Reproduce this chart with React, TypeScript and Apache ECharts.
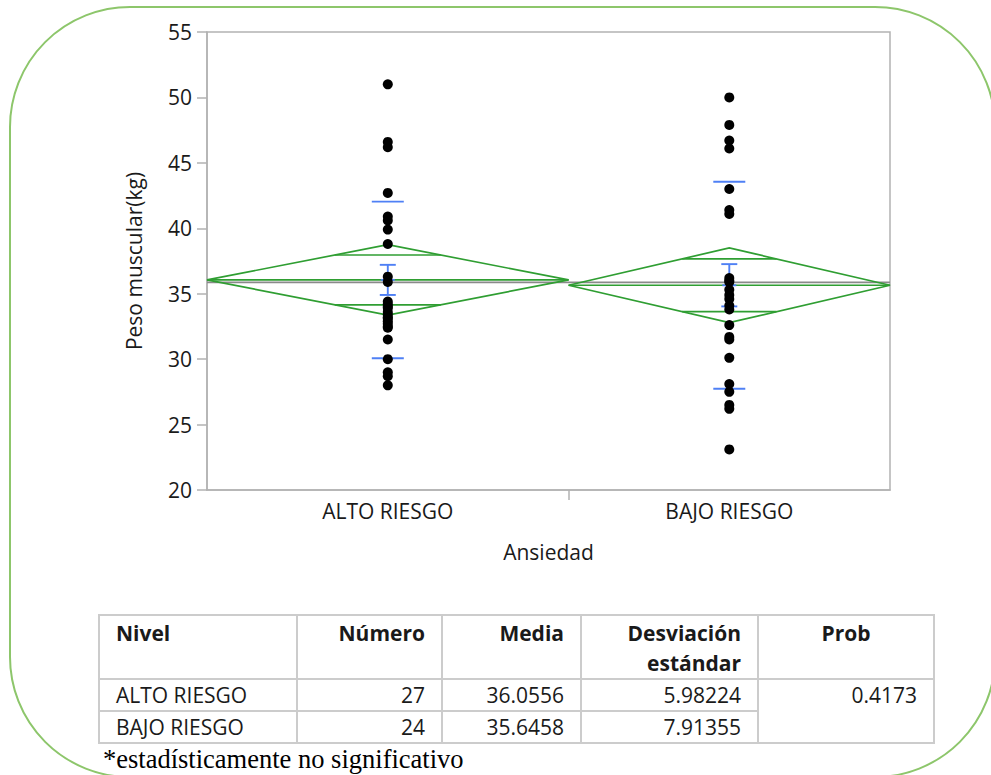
import React, { useEffect, useRef } from 'react';
import * as echarts from 'echarts';

const categories = ['ALTO RIESGO', 'BAJO RIESGO'];
const counts = [27, 24];
const means = [36.0556, 35.6458];
const stdDevs = [5.98224, 7.91355];
const meanLabels = ['36.0556', '35.6458'];
const sdLabels = ['5.98224', '7.91355'];
const probValue = '0.4173';
const tableHeaders = ['Nivel', 'Número', 'Media', 'Desviación estándar', 'Prob'];
const footnote = '*estadísticamente no significativo';

const altoRiesgo = [51.0, 46.6, 46.2, 42.7, 40.9, 40.6, 39.9, 38.8, 36.3, 35.9, 34.4, 34.2, 34.0, 33.9, 33.6, 33.4, 33.2, 33.1, 32.9, 32.7, 32.5, 32.4, 31.5, 30.0, 29.0, 28.7, 28.0];
const bajoRiesgo = [50.0, 47.9, 46.7, 46.1, 43.0, 41.4, 41.1, 36.2, 36.0, 35.9, 35.3, 34.9, 34.6, 34.1, 33.8, 32.6, 31.7, 31.5, 30.1, 28.1, 27.5, 26.5, 26.2, 23.1];

const yMin = 20;
const yMax = 55;
const yStep = 5;
const tCritical = 2.0096; // t(0.975, df = 49)

const GREEN = '#2f9e32';
const BLUE = '#4f80f5';
const GREY = '#b2b2b2';
const FONT = '"Open Sans", sans-serif';

export default function App() {
  const ref = useRef<HTMLDivElement>(null);

  useEffect(() => {
    if (!ref.current) return;
    const chart = echarts.init(ref.current, undefined, { renderer: 'svg' });

    const total = counts.reduce((a, b) => a + b, 0);
    const starts = counts.map((_, i) => counts.slice(0, i).reduce((a, b) => a + b, 0));
    const centers = starts.map((s, i) => s + counts[i] / 2);
    const df = total - counts.length;
    const pooledSd = Math.sqrt(counts.reduce((acc, n, i) => acc + (n - 1) * stdDevs[i] ** 2, 0) / df);
    const grandMean = counts.reduce((a, n, i) => a + n * means[i], 0) / total;
    const groupRows = counts.map((n, i) => {
      const ci = tCritical * pooledSd / Math.sqrt(n);
      return [starts[i], starts[i] + n, means[i], ci, ci / Math.SQRT2, stdDevs[i] / Math.sqrt(n), stdDevs[i]];
    });

    const seg = (a: number[], b: number[], color: string, w = 1.7) => ({
      type: 'line',
      shape: { x1: a[0], y1: a[1], x2: b[0], y2: b[1] },
      style: { stroke: color, lineWidth: w },
    });

    const option: any = {
      animation: false,
      textStyle: { fontFamily: FONT },
      graphic: [
        {
          type: 'rect',
          silent: true,
          z: -10,
          shape: { x: 10, y: 7, width: 985, height: 770, r: 120 },
          style: { fill: 'none', stroke: '#8dc66b', lineWidth: 2 },
        },
      ],
      grid: {
        left: 207,
        top: 32,
        width: 683,
        height: 458,
        show: true,
        borderColor: GREY,
        borderWidth: 1.5,
        backgroundColor: 'transparent',
      },
      xAxis: {
        type: 'value',
        min: 0,
        max: total,
        splitLine: { show: false },
        axisLine: { show: true, lineStyle: { color: GREY, width: 1.5 } },
        axisTick: { show: true, customValues: starts.slice(1), length: 10, lineStyle: { color: GREY, width: 1.5 } },
        axisLabel: {
          customValues: centers,
          formatter: (v: number) => {
            const idx = centers.findIndex((c) => Math.abs(c - v) < 1e-6);
            return idx >= 0 ? categories[idx] : '';
          },
          fontSize: 21,
          color: '#1a1a1a',
          margin: 10,
          fontFamily: FONT,
        },
        name: 'Ansiedad',
        nameLocation: 'middle',
        nameGap: 51,
        nameTextStyle: { fontSize: 21, color: '#1a1a1a', fontFamily: FONT },
      },
      yAxis: {
        type: 'value',
        min: yMin,
        max: yMax,
        interval: yStep,
        splitLine: { show: false },
        axisLine: { show: true, lineStyle: { color: GREY, width: 1.5 } },
        axisTick: { show: true, length: 10, lineStyle: { color: GREY, width: 1.5 } },
        axisLabel: { fontSize: 21, color: '#1a1a1a', margin: 15, fontFamily: FONT },
        name: 'Peso muscular(kg)',
        nameLocation: 'middle',
        nameGap: 63,
        nameTextStyle: { fontSize: 21, color: '#1a1a1a', fontFamily: FONT },
      },
      series: [
        {
          type: 'custom',
          name: 'grandMean',
          z: 1,
          silent: true,
          data: [[0, total, grandMean]],
          renderItem: (_p: any, api: any) => {
            const a = api.coord([api.value(0), api.value(2)]);
            const b = api.coord([api.value(1), api.value(2)]);
            return seg(a, b, '#8a8a8a', 1.7);
          },
        },
        {
          type: 'custom',
          name: 'diamonds',
          z: 2,
          silent: true,
          data: groupRows,
          renderItem: (_p: any, api: any) => {
            const x0 = api.value(0);
            const x1 = api.value(1);
            const m = api.value(2);
            const ci = api.value(3);
            const ov = api.value(4);
            const xc = (x0 + x1) / 2;
            const pL = api.coord([x0, m]);
            const pR = api.coord([x1, m]);
            const pT = api.coord([xc, m + ci]);
            const pB = api.coord([xc, m - ci]);
            const f = 1 - ov / ci;
            const ox0 = xc - (xc - x0) * f;
            const ox1 = xc + (xc - x0) * f;
            return {
              type: 'group',
              children: [
                {
                  type: 'polygon',
                  shape: { points: [pL, pT, pR, pB] },
                  style: { fill: 'none', stroke: GREEN, lineWidth: 1.7 },
                },
                seg(pL, pR, GREEN),
                seg(api.coord([ox0, m + ov]), api.coord([ox1, m + ov]), GREEN),
                seg(api.coord([ox0, m - ov]), api.coord([ox1, m - ov]), GREEN),
              ],
            };
          },
        },
        {
          type: 'custom',
          name: 'errorBars',
          z: 3,
          silent: true,
          data: groupRows,
          renderItem: (_p: any, api: any) => {
            const x0 = api.value(0);
            const x1 = api.value(1);
            const m = api.value(2);
            const se = api.value(5);
            const sd = api.value(6);
            const xc = (x0 + x1) / 2;
            const top = api.coord([xc, m + se]);
            const bot = api.coord([xc, m - se]);
            const mid = api.coord([xc, m]);
            const sdT = api.coord([xc, m + sd]);
            const sdB = api.coord([xc, m - sd]);
            const h = (p: number[], half: number) => seg([p[0] - half, p[1]], [p[0] + half, p[1]], BLUE, 1.9);
            return {
              type: 'group',
              children: [
                seg(top, bot, BLUE, 1.9),
                h(top, 8),
                h(bot, 8),
                h(mid, 7),
                h(sdT, 16),
                h(sdB, 16),
              ],
            };
          },
        },
        {
          type: 'scatter',
          name: categories[0],
          z: 4,
          silent: true,
          symbolSize: 10,
          itemStyle: { color: '#000', opacity: 1 },
          data: altoRiesgo.map((v) => [centers[0], v]),
        },
        {
          type: 'scatter',
          name: categories[1],
          z: 4,
          silent: true,
          symbolSize: 10,
          itemStyle: { color: '#000', opacity: 1 },
          data: bajoRiesgo.map((v) => [centers[1], v]),
        },
      ],
    };

    chart.setOption(option);
    return () => chart.dispose();
  }, []);

  const border = '2px solid #cccccc';
  const cell: React.CSSProperties = {
    border,
    padding: '0 16px',
    fontSize: 21,
    lineHeight: '30px',
    color: '#1a1a1a',
    verticalAlign: 'top',
    whiteSpace: 'nowrap',
  };
  const head: React.CSSProperties = { ...cell, fontWeight: 700, paddingTop: 2, whiteSpace: 'normal' };

  return (
    <div style={{ position: 'fixed', left: 0, top: 0, width: 991, height: 775, background: '#fff', overflow: 'hidden' }}>
      <div ref={ref} style={{ position: 'absolute', left: 0, top: 0, width: 991, height: 775 }} />
      <table
        style={{
          position: 'absolute',
          left: 98,
          top: 614,
          width: 835,
          borderCollapse: 'collapse',
          fontFamily: FONT,
          tableLayout: 'fixed',
        }}
      >
        <colgroup>
          <col style={{ width: 198 }} />
          <col style={{ width: 145 }} />
          <col style={{ width: 139 }} />
          <col style={{ width: 177 }} />
          <col style={{ width: 176 }} />
        </colgroup>
        <tbody>
          <tr style={{ height: 64 }}>
            <td style={{ ...head, textAlign: 'left' }}>{tableHeaders[0]}</td>
            <td style={{ ...head, textAlign: 'right' }}>{tableHeaders[1]}</td>
            <td style={{ ...head, textAlign: 'right' }}>{tableHeaders[2]}</td>
            <td style={{ ...head, textAlign: 'right' }}>
              {tableHeaders[3].split(' ')[0]}
              <br />
              {tableHeaders[3].split(' ')[1]}
            </td>
            <td style={{ ...head, textAlign: 'center' }}>{tableHeaders[4]}</td>
          </tr>
          {categories.map((c, i) => (
            <tr key={c} style={{ height: i === 0 ? 31 : 30 }}>
              <td style={{ ...cell, textAlign: 'left' }}>{c}</td>
              <td style={{ ...cell, textAlign: 'right' }}>{counts[i]}</td>
              <td style={{ ...cell, textAlign: 'right' }}>{meanLabels[i]}</td>
              <td style={{ ...cell, textAlign: 'right' }}>{sdLabels[i]}</td>
              {i === 0 ? (
                <td rowSpan={2} style={{ ...cell, textAlign: 'right' }}>
                  {probValue}
                </td>
              ) : null}
            </tr>
          ))}
        </tbody>
      </table>
      <div
        style={{
          position: 'absolute',
          left: 103,
          top: 746,
          fontFamily: '"Liberation Serif", "Times New Roman", serif',
          fontSize: 26.5,
          lineHeight: '26px',
          color: '#000',
          whiteSpace: 'nowrap',
        }}
      >
        {footnote}
      </div>
    </div>
  );
}
